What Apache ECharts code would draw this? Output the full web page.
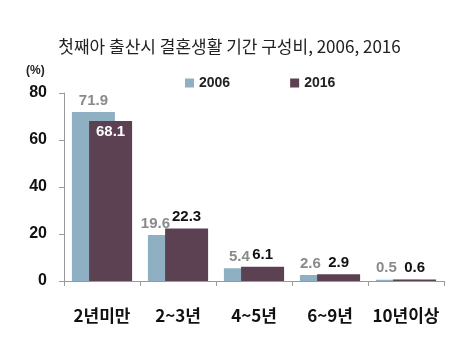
<!DOCTYPE html>
<html>
<head>
<meta charset="utf-8">
<script src="https://cdn.jsdelivr.net/npm/echarts@6/dist/echarts.min.js"></script>
<style>
  html, body { margin: 0; padding: 0; background: #fff; }
  #chart { width: 459px; height: 354px; }
</style>
</head>
<body>
<div id="chart"></div>
<script>
const categories = ['2년미만', '2~3년', '4~5년', '6~9년', '10년이상'];
const values2006 = [71.9, 19.6, 5.4, 2.6, 0.5];
const values2016 = [68.1, 22.3, 6.1, 2.9, 0.6];
const yTicks = [0, 20, 40, 60, 80];
const offsets2006 = [0, -14, -6, -11, -11];

const chart = echarts.init(document.getElementById('chart'));

// 2006 labels sit left of centre so they don't collide with the 2016 ones
const data2006 = values2006.map((v, i) => ({
  value: v,
  label: { offset: [offsets2006[i], 0] }
}));
// the tallest 2016 bar has its label inside, in white
const data2016 = values2016.map((v, i) => i === 0
  ? { value: v, label: { position: 'insideTop', color: '#fff', distance: 3 } }
  : { value: v });

const option = {
  animation: false,
  title: {
    text: '첫째아 출산시 결혼생활 기간 구성비, 2006, 2016',
    left: 'center',
    top: 33,
    textStyle: { fontFamily: 'Noto Sans CJK KR', fontSize: 17, fontWeight: 'normal', color: '#222' }
  },
  legend: {
    data: ['2006', '2016'],
    top: 71,
    left: 180,
    itemGap: 60,
    itemWidth: 9,
    itemHeight: 9,
    icon: 'rect',
    textStyle: { fontFamily: 'Liberation Sans', fontSize: 14, fontWeight: 'bold', color: '#222' }
  },
  graphic: [{
    type: 'text', left: 26, top: 65,
    style: { text: '(%)', fontFamily: 'Liberation Sans', fontSize: 12, fontWeight: 'bold', fill: '#222' }
  }],
  grid: { left: 64, right: 15, top: 93, bottom: 73 },
  xAxis: {
    type: 'category',
    data: categories,
    axisLine: { lineStyle: { color: '#999' } },
    axisTick: { show: true, length: 5, lineStyle: { color: '#999' } },
    axisLabel: {
      interval: 0,
      hideOverlap: false,
      margin: 26,
      fontFamily: 'Noto Sans CJK KR', fontSize: 17, fontWeight: 'bold', color: '#111'
    }
  },
  yAxis: {
    type: 'value',
    min: yTicks[0],
    max: yTicks[yTicks.length - 1],
    interval: 20,
    splitLine: { show: false },
    axisLine: { show: true, lineStyle: { color: '#999' } },
    axisTick: { show: true, length: 5, lineStyle: { color: '#999' } },
    axisLabel: {
      margin: 17,
      fontFamily: 'Liberation Sans', fontSize: 16, fontWeight: 'bold', color: '#111'
    }
  },
  series: [
    {
      name: '2006',
      type: 'bar',
      barWidth: 43,
      barGap: '-60%',
      data: data2006,
      itemStyle: { color: '#8fb0c3' },
      label: {
        show: true, position: 'top', distance: 4,
        fontFamily: 'Liberation Sans', fontSize: 15, fontWeight: 'bold', color: '#8a8a8a'
      }
    },
    {
      name: '2016',
      type: 'bar',
      barWidth: 43,
      data: data2016,
      itemStyle: { color: '#5b4152' },
      label: {
        show: true, position: 'top', distance: 4,
        fontFamily: 'Liberation Sans', fontSize: 15, fontWeight: 'bold', color: '#111'
      }
    }
  ]
};

chart.setOption(option);
</script>
</body>
</html>
